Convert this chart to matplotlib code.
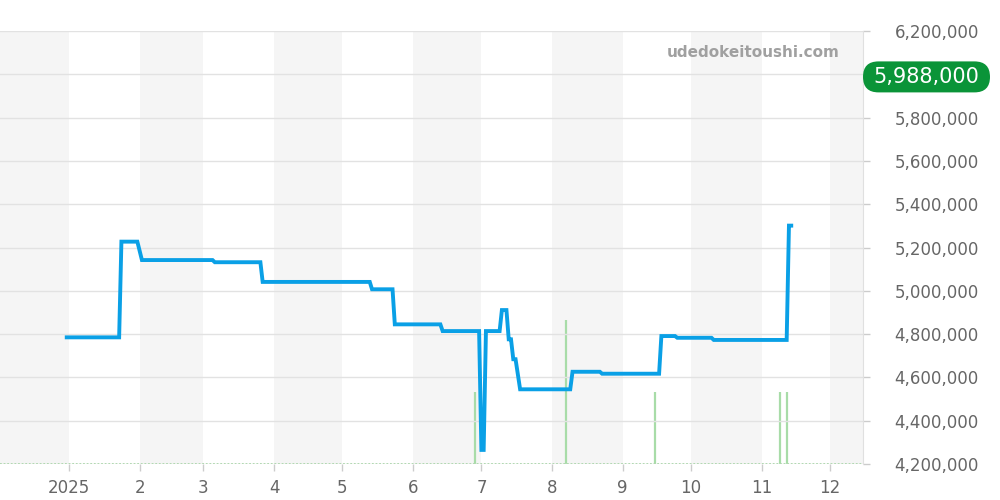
import matplotlib
matplotlib.use("Agg")
import matplotlib.pyplot as plt
import matplotlib.transforms as mtransforms
from matplotlib.patches import FancyBboxPatch
from datetime import datetime

# ---- data ----
price_dates = ["2024-12-31", "2025-01-23", "2025-01-24", "2025-01-31", "2025-02-02",
               "2025-03-05", "2025-03-06", "2025-03-26", "2025-03-27", "2025-05-13",
               "2025-05-14", "2025-05-23", "2025-05-24", "2025-06-13", "2025-06-14",
               "2025-06-30", "2025-07-01", "2025-07-02", "2025-07-03", "2025-07-09",
               "2025-07-10", "2025-07-12", "2025-07-13", "2025-07-14", "2025-07-15",
               "2025-07-16", "2025-07-18", "2025-08-09", "2025-08-10", "2025-08-22",
               "2025-08-23", "2025-09-17", "2025-09-18", "2025-09-24", "2025-09-25",
               "2025-10-10", "2025-10-11", "2025-11-12", "2025-11-13", "2025-11-14"]
price_values = [4785000, 4785000, 5227000, 5227000, 5142000,
                5142000, 5132000, 5132000, 5041000, 5041000,
                5007000, 5007000, 4845000, 4845000, 4814000,
                4814000, 4265000, 4265000, 4814000, 4814000,
                4911000, 4911000, 4776000, 4776000, 4684000,
                4684000, 4545000, 4545000, 4626000, 4626000,
                4617000, 4617000, 4791000, 4791000, 4783000,
                4783000, 4773000, 4773000, 5301000, 5301000]

volume_dates = ["2025-06-28", "2025-08-07", "2025-09-15", "2025-11-09", "2025-11-12"]
volume_counts = [1, 2, 1, 1, 1]

month_ticks = ["2025-01-01", "2025-02-01", "2025-03-01", "2025-04-01", "2025-05-01",
               "2025-06-01", "2025-07-01", "2025-08-01", "2025-09-01", "2025-10-01",
               "2025-11-01", "2025-12-01"]
month_labels = ["2025", "2", "3", "4", "5", "6", "7", "8", "9", "10", "11", "12"]

y_ticks = [4200000, 4400000, 4600000, 4800000, 5000000, 5200000,
           5400000, 5600000, 5800000, 6000000, 6200000]
current_price = 5988000
watermark = "udedokeitoushi.com"

# ---- figure ----
to_dt = lambda s: datetime.strptime(s, "%Y-%m-%d")
pd_ = [to_dt(s) for s in price_dates]
vd_ = [to_dt(s) for s in volume_dates]
md_ = [to_dt(s) for s in month_ticks]

fig = plt.figure(figsize=(10, 5), dpi=100)
ax = fig.add_axes([0.0, 1 - 464 / 500, 0.863, (464 - 31) / 500])
ax2 = ax.twinx()
ax2.set_zorder(0)
ax.set_zorder(1)
ax.patch.set_visible(False)

x0 = datetime(2024, 12, 1, 17)
x1 = datetime(2025, 12, 15, 12)
ax.set_xlim(x0, x1)
ax2.set_xlim(x0, x1)

# month shading (alternate)
bounds = [datetime(2024, 12, 1)] + md_ + [datetime(2026, 1, 1)]
for i in range(len(bounds) - 1):
    if i % 2 == 0:
        ax2.axvspan(bounds[i], bounds[i + 1], color="#f5f5f5", lw=0, zorder=0)

# volume bars
ax2.vlines(vd_, 0, volume_counts, color="#a8dca8", lw=1.6, zorder=2)
ax2.axhline(0, color="#9fd49f", lw=1.3, ls=(0, (1, 1)), zorder=2)
ax2.set_ylim(0, 6)
ax2.set_yticks([])
for s in ax2.spines.values():
    s.set_visible(False)

# price line
ax.plot(pd_, price_values, color="#0aa0e6", lw=2.8, solid_joinstyle="miter", zorder=3)
ax.set_ylim(4200000, 6200000)
ax.set_yticks(y_ticks)
# the 6,000,000 label sits behind the current-price badge in the reference
ax.set_yticklabels(["" if v == 6000000 else f"{v:,}" for v in y_ticks])
ax.yaxis.tick_right()
ax.grid(axis="y", color="#e2e2e2", lw=1)
ax.set_axisbelow(True)
ax.tick_params(axis="y", length=5, width=1, color="#cccccc", labelsize=12,
               labelcolor="#666666", pad=78.5)
for lab in ax.get_yticklabels():
    lab.set_horizontalalignment("right")

ax.set_xticks(md_)
ax.set_xticklabels(month_labels)
ax.tick_params(axis="x", length=5, width=1, color="#cccccc", labelsize=12,
               labelcolor="#666666", pad=6)

for k, s in ax.spines.items():
    s.set_visible(False)
ax.spines["right"].set_visible(True)
ax.spines["right"].set_color("#e0e0e0")

# watermark
ax.text(0.973, 0.95, watermark, transform=ax.transAxes, ha="right", va="center",
        fontsize=11, fontweight="bold", color="#a0a0a0")

# current price badge (pixel-sized rounded box centred on the price level)
yc = ax.transData.transform((0, current_price))[1]
bx0, bx1, bh = 863, 990, 31
badge = FancyBboxPatch((bx0, yc - bh / 2), bx1 - bx0, bh,
                       boxstyle=f"round,pad=0,rounding_size={bh / 2}",
                       fc="#0a9438", ec="none", transform=mtransforms.IdentityTransform(),
                       zorder=9)
fig.patches.append(badge)
trans = mtransforms.blended_transform_factory(fig.transFigure, ax.transData)
fig.text(((bx0 + bx1) / 2) / 1000, 0, f"{current_price:,}", transform=trans,
         ha="center", va="center", fontsize=15, color="white", zorder=10)
fig.texts[-1].set_y(current_price)

fig.savefig("out.png", dpi=100)
